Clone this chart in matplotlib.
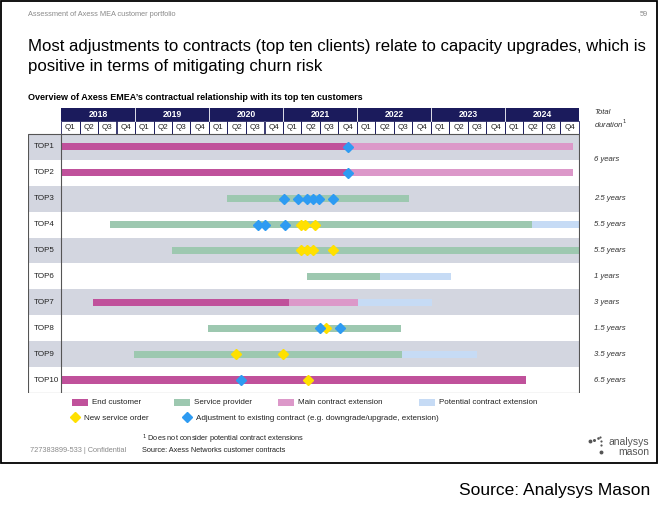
import numpy as np
import matplotlib.pyplot as plt
from matplotlib.patches import Rectangle

plt.rcParams['font.family'] = ['Liberation Sans', 'DejaVu Sans']

# ---- data (quarters counted from start of 2018 Q1) ----
clients = ['TOP1', 'TOP2', 'TOP3', 'TOP4', 'TOP5', 'TOP6', 'TOP7', 'TOP8', 'TOP9', 'TOP10']
years = ['2018', '2019', '2020', '2021', '2022', '2023', '2024']
quarters = ['Q1', 'Q2', 'Q3', 'Q4']

# (row, start, end) for each bar type
end_customer = [(0, 0.0, 15.5), (1, 0.0, 15.5), (6, 1.75, 12.3), (9, 0.0, 25.15)]
service_provider = [(2, 9.0, 18.8), (3, 2.65, 25.45), (4, 6.0, 28.0), (5, 13.3, 17.25),
                    (7, 7.95, 18.4), (8, 3.95, 18.45)]
main_extension = [(0, 15.5, 27.7), (1, 15.5, 27.7), (6, 12.3, 16.05)]
potential_extension = [(3, 25.45, 28.0), (5, 17.25, 21.1), (6, 16.05, 20.05), (8, 18.45, 22.5)]

new_order = [(3, 12.97), (3, 13.2), (3, 13.73),
             (4, 12.97), (4, 13.3), (4, 13.62), (4, 14.7),
             (7, 14.32), (8, 9.46), (8, 12.0), (9, 13.35)]
adjustment = [(0, 15.5), (1, 15.5),
              (2, 12.05), (2, 12.8), (2, 13.3), (2, 13.62), (2, 13.95), (2, 14.7),
              (3, 10.65), (3, 11.03), (3, 12.1),
              (7, 14.0), (7, 15.1), (9, 9.73)]

durations = ['6 years', '2.5 years', '5.5 years', '5.5 years', '1 years',
             '3 years', '1.5 years', '3.5 years', '6.5 years']
duration_rows = [1.0, 2.5, 3.5, 4.5, 5.5, 6.5, 7.5, 8.5, 9.5]

c_end = '#C0519B'
c_sp = '#9DC8B0'
c_main = '#DC98C9'
c_pot = '#C6DBF5'
c_new = '#FFE000'
c_adj = '#2E9BF2'
navy = '#1B1B5C'
grey_row = '#D3D6E0'
txt = '#222222'
light = '#8a8a8a'

W, H = 660, 507
fig = plt.figure(figsize=(W / 100, H / 100), dpi=100)

# background axes in pixel coordinates
bg = fig.add_axes([0, 0, 1, 1])
bg.set_xlim(0, W)
bg.set_ylim(H, 0)
bg.axis('off')
bg.add_patch(Rectangle((1, 1), 656, 462, fill=False, ec='black', lw=1.3))

bg.text(28, 14, 'Assessment of Axess MEA customer portfolio', fontsize=5.3, color=light, va='center')
bg.text(648, 14, '59', fontsize=5.3, color=light, va='center', ha='right')
bg.text(28, 46, 'Most adjustments to contracts (top ten clients) relate to capacity upgrades, which is',
        fontsize=12.1, va='center')
bg.text(28, 67, 'positive in terms of mitigating churn risk', fontsize=12.1, va='center')
bg.text(28, 97, "Overview of Axess EMEA\u2019s contractual relationship with its top ten customers",
        fontsize=6.5, fontweight='bold', va='center')
bg.text(594, 113, 'Total', fontsize=5.6, style='italic', color='#333333', va='center')
bg.text(594, 124, 'duration$^1$', fontsize=5.6, style='italic', color='#333333', va='center')

# legend
leg_patches = [(72, c_end, 'End customer'), (174, c_sp, 'Service provider'),
               (278, c_main, 'Main contract extension'), (419, c_pot, 'Potential contract extension')]
for x, c, lab in leg_patches:
    bg.add_patch(Rectangle((x, 399), 16, 7, color=c, lw=0))
    bg.text(x + 20, 403, lab, fontsize=5.8, va='center', color=txt)
for x, c, lab in [(75, c_new, 'New service order'),
                  (187, c_adj, 'Adjustment to existing contract (e.g. downgrade/upgrade, extension)')]:
    bg.plot(x, 417, marker='D', ms=5.5, color=c, mec=c)
    bg.text(x + 9, 419, lab, fontsize=5.8, va='center', color=txt)

bg.text(142, 439, '$^1$ Does not consider potential contract extensions', fontsize=5.3, va='center', color=txt)
bg.text(30, 451, '727383899-533 | Confidential', fontsize=5.3, color=light, va='center')
bg.text(142, 451, 'Source: Axess Networks customer contracts', fontsize=5.3, va='center', color=txt)
bg.text(649, 442, 'analysys', fontsize=7.5, color='#555555', ha='right', va='center')
bg.text(649, 452, 'mason', fontsize=7.5, color='#555555', ha='right', va='center')
for (dx, dy, s) in [(590, 441, 4.5), (594, 439.5, 3.5), (597.5, 438, 3), (600, 437, 2.5),
                    (601, 441, 2.5), (601, 445, 2.5), (601, 452, 4.5)]:
    bg.plot(dx, dy, 'o', ms=s / 1.6, color='#555555', mew=0)

bg.text(650, 490, 'Source: Analysys Mason', fontsize=12.5, ha='right', va='center')

# chart axes: x in quarters, y in rows
q_px = 18.5
x0_px = 61
left_px, right_px, top_px, bot_px = 28, 580, 108, 393
ax = fig.add_axes([left_px / W, 1 - bot_px / H, (right_px - left_px) / W, (bot_px - top_px) / H])
xmin = -(x0_px - left_px) / q_px
ax.set_xlim(xmin, xmin + (right_px - left_px) / q_px)
ax.set_ylim(10, -1.0)
ax.axis('off')

# row shading and labels
for i, name in enumerate(clients):
    if i % 2 == 0:
        ax.add_patch(Rectangle((xmin, i), 28 - xmin, 1, color=grey_row, lw=0, zorder=0))
    ax.text(xmin + 0.3, i + 0.5, name, fontsize=5.8, va='center', color=txt)
ax.add_patch(Rectangle((xmin, 0), 28 - xmin, 10, fill=False, ec='#555555', lw=0.8, zorder=3))
ax.plot([0, 0], [0, 10], color='#555555', lw=0.8, zorder=3)

# header
for k, yr in enumerate(years):
    ax.add_patch(Rectangle((4 * k, -1), 4, 0.5, color=navy, lw=0))
    ax.text(4 * k + 2, -0.74, yr, color='white', fontsize=6.2, fontweight='bold', ha='center', va='center')
    if k > 0:
        ax.plot([4 * k, 4 * k], [-1, -0.5], color='white', lw=0.6)
    for j, q in enumerate(quarters):
        qi = 4 * k + j
        ax.add_patch(Rectangle((qi, -0.5), 1, 0.5, fill=False, ec=navy, lw=0.6))
        ax.text(qi + 0.5, -0.24, q, fontsize=5.8, ha='center', va='center', color=txt)

bar_h = 0.28
for data, c in [(end_customer, c_end), (service_provider, c_sp),
                (main_extension, c_main), (potential_extension, c_pot)]:
    rows = [d[0] + 0.5 for d in data]
    starts = [d[1] for d in data]
    widths = [d[2] - d[1] for d in data]
    ax.barh(rows, widths, left=starts, height=bar_h, color=c, zorder=2)

ax.plot([d[1] for d in new_order], [d[0] + 0.5 for d in new_order], 'D', ms=5,
        color=c_new, mec=c_new, ls='none', zorder=4)
ax.plot([d[1] for d in adjustment], [d[0] + 0.5 for d in adjustment], 'D', ms=5,
        color=c_adj, mec=c_adj, ls='none', zorder=4)

xd = (594 - x0_px) / q_px
for lab, r in zip(durations, duration_rows):
    ax.text(xd, r, lab, fontsize=5.6, style='italic', color='#333333', va='center', clip_on=False)

fig.savefig('out.png', dpi=100)
